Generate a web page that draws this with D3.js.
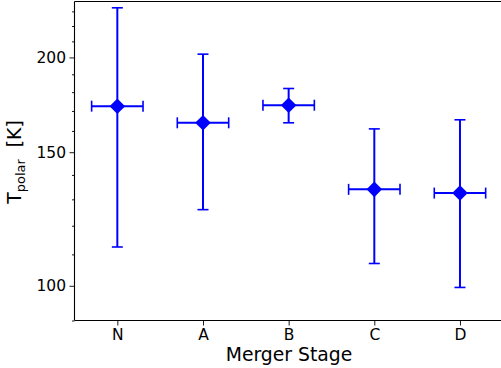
<!DOCTYPE html>
<html>
<head>
<meta charset="utf-8">
<script src="https://cdn.jsdelivr.net/npm/d3@7"></script>
<style>
html,body{margin:0;padding:0;background:#fff;}
svg{display:block;font-family:"DejaVu Sans",sans-serif;}
</style>
</head>
<body>
<svg id="chart" width="501" height="368"></svg>
<script>
const categories = ["N", "A", "B", "C", "D"];
const tPolar = [172.5, 164, 173, 134, 132.5];
const tErr = [60, 38, 9, 27, 33];
const xErr = [0.3, 0.3, 0.3, 0.3, 0.3];
const majorTicks = [100, 150, 200];
const minorTicks = [90, 110, 120, 130, 140, 160, 170, 180, 190, 210, 220, 230];

(function () {
const svg = d3.select("#chart");
const mLeft = 74.5, mRight = 502.8, mTop = 1.5, mBottom = 320.5;

const x = d3.scaleLinear().domain([-0.5, categories.length - 0.5]).range([mLeft, mRight]);
const y = d3.scaleLog().domain([90, 237]).range([mBottom, mTop]);

const color = "#0000ff";

const yAxis = d3.axisLeft(y).tickValues(majorTicks).tickFormat(d3.format("d")).tickSize(5).tickPadding(3.5);
const yMinor = d3.axisLeft(y).tickValues(minorTicks).tickFormat("").tickSize(2.5);
const xAxis = d3.axisBottom(x).tickValues(d3.range(categories.length)).tickFormat(i => categories[i]).tickSize(5).tickPadding(3.5);

const gy = svg.append("g").attr("transform", `translate(${mLeft},0)`).call(yAxis);
const gm = svg.append("g").attr("transform", `translate(${mLeft},0)`).call(yMinor);
const gx = svg.append("g").attr("transform", `translate(0,${mBottom})`).call(xAxis);

[gy, gm, gx].forEach(g => {
  g.select(".domain").remove();
  g.selectAll("text").attr("font-size", 15.5).attr("fill", "#000").attr("font-family", "DejaVu Sans");
  g.selectAll("line").attr("stroke", "#000").attr("stroke-width", 0.9);
});

svg.append("line").attr("x1", mLeft).attr("x2", mLeft).attr("y1", mTop).attr("y2", mBottom).attr("stroke", "#000").attr("stroke-width", 1.1);
svg.append("line").attr("x1", mLeft).attr("x2", mRight).attr("y1", mBottom).attr("y2", mBottom).attr("stroke", "#000").attr("stroke-width", 1.1);
svg.append("line").attr("x1", mLeft).attr("x2", mRight).attr("y1", mTop).attr("y2", mTop).attr("stroke", "#000").attr("stroke-width", 1.1);

const data = categories.map((c, i) => ({i, v: tPolar[i], e: tErr[i], xe: xErr[i]}));
const g = svg.append("g");
const cap = 5.5;
data.forEach(d => {
  const cx = x(d.i), cy = y(d.v);
  const y1 = y(d.v + d.e), y0 = y(d.v - d.e);
  const xl = x(d.i - d.xe), xr = x(d.i + d.xe);
  g.append("line").attr("x1", cx).attr("x2", cx).attr("y1", y1).attr("y2", y0).attr("stroke", color).attr("stroke-width", 2);
  g.append("line").attr("x1", xl).attr("x2", xr).attr("y1", cy).attr("y2", cy).attr("stroke", color).attr("stroke-width", 2);
  [[cx - cap, cx + cap, y1, y1], [cx - cap, cx + cap, y0, y0], [xl, xl, cy - cap, cy + cap], [xr, xr, cy - cap, cy + cap]].forEach(c => {
    g.append("line").attr("x1", c[0]).attr("x2", c[1]).attr("y1", c[2]).attr("y2", c[3]).attr("stroke", color).attr("stroke-width", 1.6);
  });
  g.append("path").attr("d", d3.symbol().type(d3.symbolSquare).size(11 * 11)()).attr("transform", `translate(${cx},${cy}) rotate(45)`).attr("fill", color);
});

svg.append("text").attr("x", 289).attr("y", 361).attr("text-anchor", "middle").attr("font-size", 18.8).attr("fill", "#000").text("Merger Stage");
const yl = svg.append("text").attr("transform", `translate(21,162) rotate(-90)`).attr("text-anchor", "middle").attr("font-size", 18.8).attr("fill", "#000");
yl.append("tspan").text("T");
yl.append("tspan").attr("font-size", 13).attr("dy", 4).text("polar");
yl.append("tspan").attr("dy", -4).text("\u00a0 [K]");
})();
</script>
</body>
</html>
